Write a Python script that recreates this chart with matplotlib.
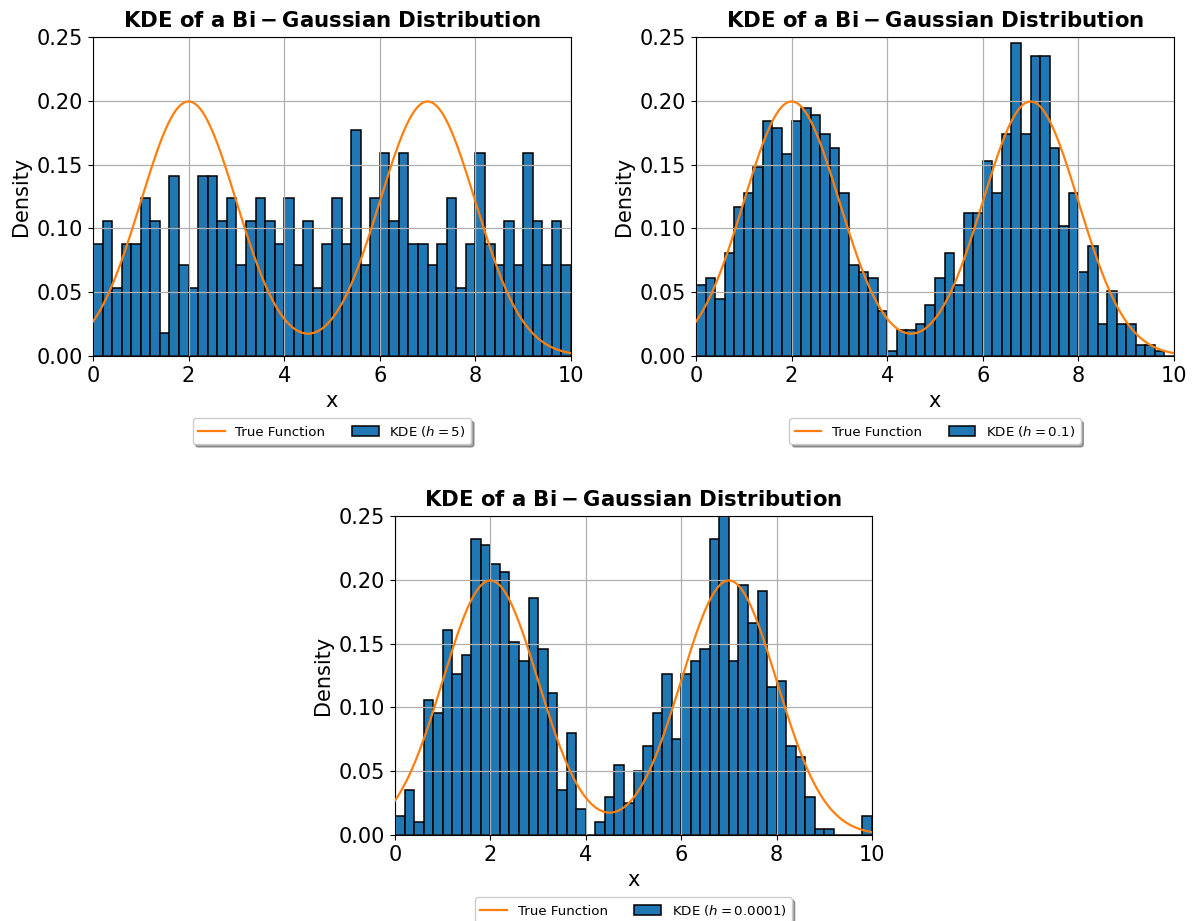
import numpy as np
import matplotlib
matplotlib.use("Agg")
import matplotlib.pyplot as plt

# ---------------- data ----------------
bin_start = 0.0
bin_stop = 10.0
n_bins = 50

dens_h5 = [0.088, 0.106, 0.053, 0.088, 0.088, 0.124, 0.106, 0.018, 0.141, 0.071,
           0.053, 0.141, 0.141, 0.106, 0.124, 0.071, 0.106, 0.124, 0.106, 0.088,
           0.124, 0.071, 0.106, 0.053, 0.088, 0.124, 0.088, 0.177, 0.071, 0.124,
           0.159, 0.106, 0.159, 0.088, 0.088, 0.071, 0.088, 0.124, 0.053, 0.088,
           0.159, 0.088, 0.071, 0.106, 0.071, 0.159, 0.106, 0.071, 0.106, 0.071]

dens_h01 = [0.056, 0.061, 0.045, 0.081, 0.117, 0.128, 0.148, 0.184, 0.179, 0.158,
            0.184, 0.194, 0.189, 0.174, 0.163, 0.128, 0.071, 0.066, 0.061, 0.035,
            0.004, 0.020, 0.020, 0.025, 0.040, 0.061, 0.081, 0.056, 0.112, 0.112,
            0.153, 0.128, 0.174, 0.245, 0.174, 0.235, 0.235, 0.163, 0.102, 0.128,
            0.066, 0.086, 0.025, 0.051, 0.025, 0.025, 0.009, 0.009, 0.004, 0.000]

dens_h00001 = [0.015, 0.035, 0.010, 0.106, 0.096, 0.161, 0.126, 0.141, 0.232, 0.227,
               0.212, 0.206, 0.151, 0.136, 0.186, 0.146, 0.111, 0.035, 0.080, 0.020,
               0.000, 0.010, 0.030, 0.055, 0.025, 0.050, 0.070, 0.096, 0.126, 0.075,
               0.126, 0.136, 0.146, 0.232, 0.262, 0.136, 0.196, 0.166, 0.191, 0.116,
               0.121, 0.070, 0.061, 0.030, 0.005, 0.005, 0.000, 0.000, 0.000, 0.015]

bandwidth_labels = ["5", "0.1", "0.0001"]

# true function: two-component Gaussian mixture
mix_means = [2.0, 7.0]
mix_sigmas = [1.0, 1.0]
mix_weights = [0.5, 0.5]

x_ticks = [0, 2, 4, 6, 8, 10]
y_ticks = [0.00, 0.05, 0.10, 0.15, 0.20, 0.25]

# ---------------- plot ----------------
W, H = 1193, 921
fig = plt.figure(figsize=(W / 100, H / 100), dpi=100)

def px_axes(left, top, right, bottom):
    return fig.add_axes([left / W, 1 - bottom / H, (right - left) / W, (bottom - top) / H])

axes_px = [(93, 37, 571, 356), (696, 37, 1174, 356), (395, 516, 872, 835)]
datasets = [dens_h5, dens_h01, dens_h00001]

edges = np.linspace(bin_start, bin_stop, n_bins + 1)
xs = np.linspace(bin_start, bin_stop, 500)
true_f = np.zeros_like(xs)
for m, s, w in zip(mix_means, mix_sigmas, mix_weights):
    true_f += w * np.exp(-0.5 * ((xs - m) / s) ** 2) / (s * np.sqrt(2 * np.pi))

for (l, t, r, b), dens, hl in zip(axes_px, datasets, bandwidth_labels):
    ax = px_axes(l, t, r, b)
    ax.plot(xs, true_f, color="#ff7f0e", lw=1.6, label="True Function", zorder=3)
    ax.bar(edges[:-1], dens, width=edges[1] - edges[0], align="edge",
           color="#1f77b4", edgecolor="black", linewidth=1.1,
           label=r"KDE ($h = %s$)" % hl)
    ax.set_xlim(0, 10)
    ax.set_ylim(0, 0.25)
    ax.set_xticks(x_ticks)
    ax.set_yticks(y_ticks)
    ax.set_yticklabels(["%.2f" % v for v in y_ticks])
    ax.tick_params(labelsize=15)
    ax.grid(True, color="#b0b0b0", lw=0.9)
    ax.set_xlabel("x", fontsize=15)
    ax.set_ylabel("Density", fontsize=15)
    ax.set_title(r"KDE of a $\mathbf{Bi-Gaussian}$ Distribution", fontsize=15.3,
                 fontweight="bold", pad=7)
    ax.legend(loc="upper center", bbox_to_anchor=(0.5, -0.175), ncol=2,
              fontsize=9.6, shadow=True, frameon=True, columnspacing=2.0)

fig.savefig("out.png", dpi=100)
